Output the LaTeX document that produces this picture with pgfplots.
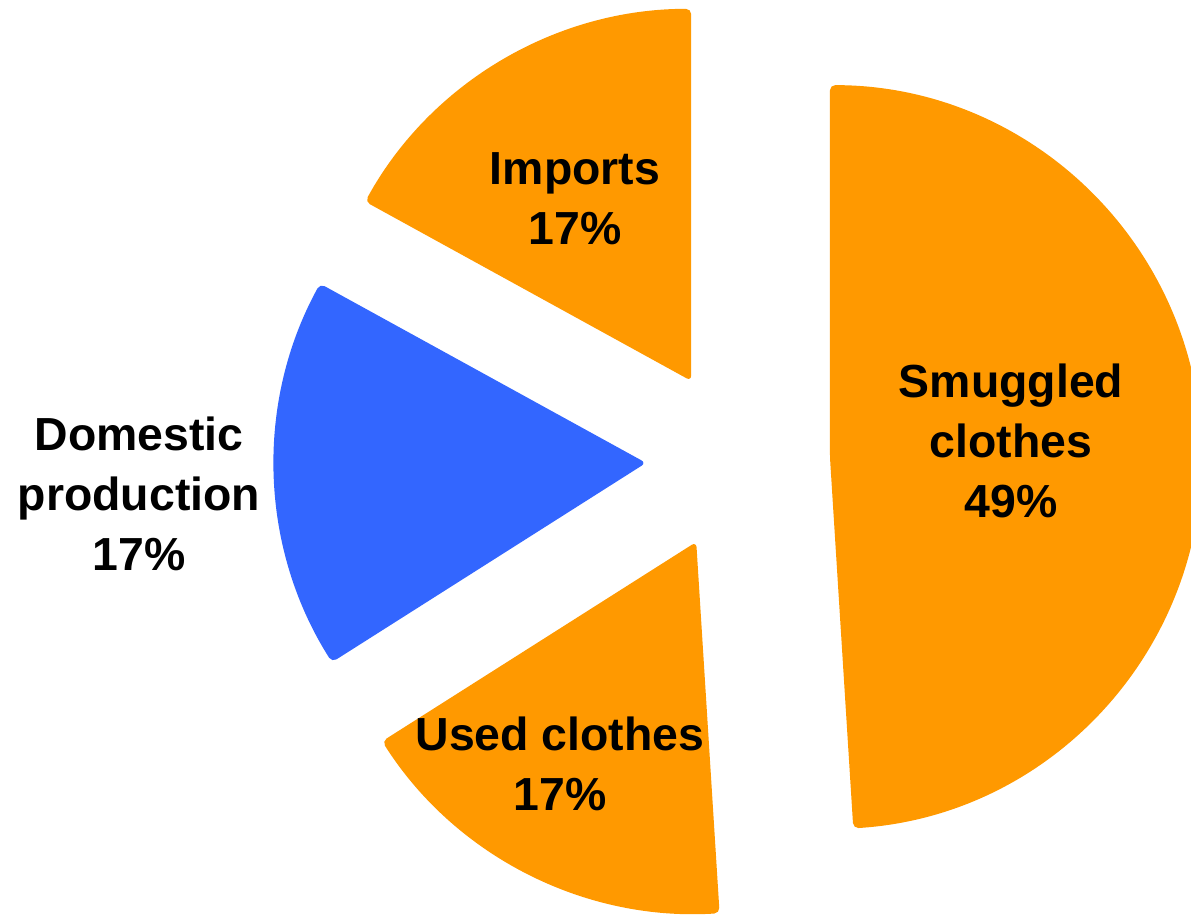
\documentclass[border=0pt]{standalone}
\usepackage{fontspec}
\setmainfont{Liberation Sans}
\usepackage{pgfplots}
\pgfplotsset{compat=1.18}
\definecolor{pieorange}{HTML}{FF9900}
\definecolor{pieblue}{HTML}{3366FF}

% shares in percent, counter-clockwise from 12 o'clock
\def\vImp{17}
\def\vDom{17}
\def\vUsed{17}
\def\vSmug{49}

\def\cx{738}\def\cy{459}\def\ex{92}
\def\rad{3.72cm}

\newcommand\pieslice[3]{% name, start, value
  \pgfmathsetmacro\tmpe{#2+3.6*#3}%
  \pgfmathsetmacro\tmpm{(#2+\tmpe)/2}%
  \pgfmathsetmacro\tmpx{\cx+\ex*cos(\tmpm)}%
  \pgfmathsetmacro\tmpy{\cy+\ex*sin(\tmpm)}%
  \expandafter\xdef\csname #1s\endcsname{#2}%
  \expandafter\xdef\csname #1e\endcsname{\tmpe}%
  \expandafter\xdef\csname #1x\endcsname{\tmpx}%
  \expandafter\xdef\csname #1y\endcsname{\tmpy}%
}

\begin{document}%
\pieslice{impA}{90}{\vImp}%
\pieslice{domA}{\impAe}{\vDom}%
\pieslice{useA}{\domAe}{\vUsed}%
\pieslice{smgA}{\useAe}{\vSmug}%
\begin{tikzpicture}
\begin{axis}[
    name=ax,
    width=11.91cm, height=9.19cm,
    scale only axis,
    hide axis,
    xmin=0, xmax=1191, ymin=0, ymax=919,
    clip=true,
]
\fill[pieorange, rounded corners=1.5pt] (axis cs:\impAx,\impAy) -- ++(\impAs:\rad) arc[start angle=\impAs, end angle=\impAe, radius=\rad] -- cycle;
\fill[pieblue, rounded corners=1.5pt] (axis cs:\domAx,\domAy) -- ++(\domAs:\rad) arc[start angle=\domAs, end angle=\domAe, radius=\rad] -- cycle;
\fill[pieorange, rounded corners=1.5pt] (axis cs:\useAx,\useAy) -- ++(\useAs:\rad) arc[start angle=\useAs, end angle=\useAe, radius=\rad] -- cycle;
\fill[pieorange, rounded corners=1.5pt] (axis cs:\smgAx,\smgAy) -- ++(\smgAs:\rad) arc[start angle=\smgAs, end angle=\smgAe, radius=\rad] -- cycle;

\begin{scope}[every node/.style={align=center, font=\fontsize{13.2}{17}\selectfont\bfseries}]
\node at (axis cs:575,720) {Imports\\\vImp\%};
\node at (axis cs:1011,478) {Smuggled\\clothes\\\vSmug\%};
\node at (axis cs:139,425) {Domestic\\production\\\vDom\%};
\node at (axis cs:560,155) {Used clothes\\\vUsed\%};
\end{scope}
\end{axis}
\pgfresetboundingbox
\useasboundingbox (ax.south west) rectangle (ax.north east);
\end{tikzpicture}%
\end{document}
